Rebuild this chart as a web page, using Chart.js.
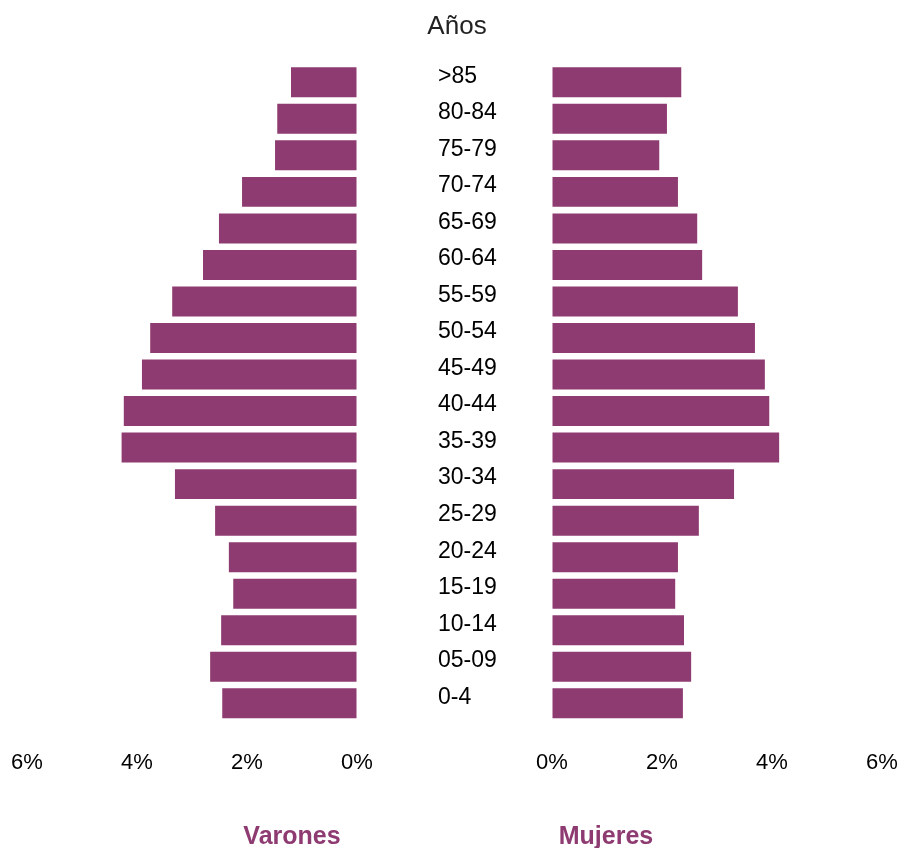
<!DOCTYPE html>
<html>
<head>
<meta charset="utf-8">
<script src="https://cdn.jsdelivr.net/npm/chart.js@4/dist/chart.umd.min.js"></script>
<style>
  html, body { margin: 0; padding: 0; background: #fff; overflow: hidden; }
  #wrap { position: relative; width: 901px; height: 848px; }
  #wrap canvas { position: absolute; left: 0; top: 0; }
</style>
</head>
<body>
<div id="wrap">
  <canvas id="leftChart" width="901" height="848"></canvas>
  <canvas id="rightChart" width="901" height="848"></canvas>
</div>
<script>
// grupos de edad, de arriba abajo
const ageGroups = ['>85', '80-84', '75-79', '70-74', '65-69', '60-64', '55-59', '50-54', '45-49',
  '40-44', '35-39', '30-34', '25-29', '20-24', '15-19', '10-14', '05-09', '0-4'];
const varones = [1.20, 1.45, 1.49, 2.09, 2.51, 2.80, 3.36, 3.76, 3.91,
  4.24, 4.28, 3.31, 2.58, 2.33, 2.25, 2.47, 2.67, 2.45];
const mujeres = [2.35, 2.09, 1.95, 2.29, 2.64, 2.73, 3.38, 3.69, 3.87,
  3.95, 4.13, 3.31, 2.67, 2.29, 2.24, 2.40, 2.53, 2.38];
const xTicks = [0, 2, 4, 6];

const barColor = '#8e3b71';
const fontFamily = '"Liberation Sans", Arial, sans-serif';

// small plugin to write free text (title and sex labels)
const textPlugin = {
  id: 'freeText',
  afterDraw(chart, args, opts) {
    const ctx = chart.ctx;
    ctx.save();
    (opts.items || []).forEach(it => {
      ctx.font = it.font;
      ctx.fillStyle = it.color;
      ctx.textAlign = 'center';
      ctx.textBaseline = 'middle';
      ctx.fillText(it.text, it.x, it.y);
    });
    ctx.restore();
  }
};

// invisible tick marks are used as spacing between axis and labels
const hiddenGrid = (len) => ({
  display: true,
  drawOnChartArea: false,
  drawTicks: true,
  tickLength: len,
  color: 'rgba(0,0,0,0)'
});

const xScale = (reverse) => ({
  min: 0,
  max: 6,
  reverse: reverse,
  afterBuildTicks: (axis) => { axis.ticks = xTicks.map(v => ({ value: v })); },
  grid: hiddenGrid(28),
  border: { display: false },
  ticks: {
    padding: 0,
    color: '#000',
    font: { family: fontFamily, size: 22 },
    callback: (v) => v + '%'
  }
});

const commonOpts = {
  indexAxis: 'y',
  responsive: false,
  animation: false
};

new Chart(document.getElementById('leftChart'), {
  type: 'bar',
  data: {
    labels: ageGroups,
    datasets: [{ label: 'Varones', data: varones, backgroundColor: barColor,
      barPercentage: 0.82, categoryPercentage: 1 }]
  },
  options: {
    ...commonOpts,
    layout: { padding: { left: 27, right: 394, top: 64, bottom: 72 } },
    scales: {
      x: xScale(true),
      y: {
        position: 'right',
        afterFit: (axis) => { axis.width = 150; },
        grid: hiddenGrid(81),
        border: { display: false },
        ticks: {
          crossAlign: 'near',
          padding: 0,
          labelOffset: -6,
          color: '#000',
          font: { family: fontFamily, size: 23 }
        }
      }
    },
    plugins: {
      legend: { display: false },
      tooltip: { enabled: false },
      freeText: { items: [
        { text: 'Años', x: 457, y: 27, font: '26px ' + fontFamily, color: '#222' },
        { text: 'Varones', x: 292, y: 837, font: 'bold 25px ' + fontFamily, color: barColor }
      ] }
    }
  },
  plugins: [textPlugin]
});

new Chart(document.getElementById('rightChart'), {
  type: 'bar',
  data: {
    labels: ageGroups,
    datasets: [{ label: 'Mujeres', data: mujeres, backgroundColor: barColor,
      barPercentage: 0.82, categoryPercentage: 1 }]
  },
  options: {
    ...commonOpts,
    layout: { padding: { left: 552, right: 19, top: 64, bottom: 72 } },
    scales: {
      x: xScale(false),
      y: { display: false }
    },
    plugins: {
      legend: { display: false },
      tooltip: { enabled: false },
      freeText: { items: [
        { text: 'Mujeres', x: 606, y: 837, font: 'bold 25px ' + fontFamily, color: barColor }
      ] }
    }
  },
  plugins: [textPlugin]
});
</script>
</body>
</html>
